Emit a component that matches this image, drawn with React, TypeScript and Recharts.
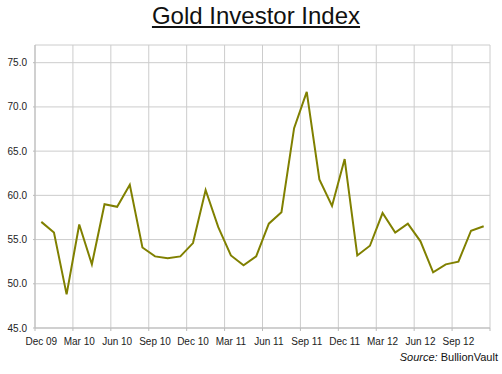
import { LineChart, Line, XAxis, YAxis, CartesianGrid } from 'recharts';

const months = [
    'Dec 09', 'Jan 10', 'Feb 10', 'Mar 10', 'Apr 10', 'May 10', 'Jun 10', 'Jul 10', 'Aug 10', 'Sep 10', 'Oct 10', 'Nov 10',
    'Dec 10', 'Jan 11', 'Feb 11', 'Mar 11', 'Apr 11', 'May 11', 'Jun 11', 'Jul 11', 'Aug 11', 'Sep 11', 'Oct 11', 'Nov 11',
    'Dec 11', 'Jan 12', 'Feb 12', 'Mar 12', 'Apr 12', 'May 12', 'Jun 12', 'Jul 12', 'Aug 12', 'Sep 12', 'Oct 12', 'Nov 12',
];

const indexValues = [
    57.0, 55.8, 48.8, 56.7, 52.2, 59.0, 58.7, 61.2, 54.1, 53.1, 52.9, 53.1,
    54.6, 60.6, 56.4, 53.2, 52.1, 53.1, 56.8, 58.1, 67.6, 71.7, 61.8, 58.8,
    64.1, 53.2, 54.3, 58.0, 55.8, 56.8, 54.8, 51.3, 52.2, 52.5, 56.0, 56.5,
];

const yTicks = [45, 50, 55, 60, 65, 70, 75];
// quarterly labels sit on the category, gridlines on the boundaries between categories
const labelTicks = [0, 3, 6, 9, 12, 15, 18, 21, 24, 27, 30, 33];
const gridTicks = [-0.5, 2.5, 5.5, 8.5, 11.5, 14.5, 17.5, 20.5, 23.5, 26.5, 29.5, 32.5, 35.5];

const data = months.map((m, i) => ({ idx: i, month: m, value: indexValues[i] }));

const FONT = '"Liberation Sans", Arial, sans-serif';

export default function App() {
    return (
        <div style={{ position: 'relative', width: 502, height: 374, background: '#fff', fontFamily: FONT }}>
            <style>{`body { margin: 0; }`}</style>
            <div style={{ position: 'absolute', top: 4, left: 10, width: 492, textAlign: 'center', fontSize: 24, lineHeight: '24px', color: '#111', textDecoration: 'underline' }}>
                Gold Investor Index
            </div>
            <LineChart width={502} height={374} data={data} margin={{ top: 45, right: 12, left: 0, bottom: 23 }}>
                <CartesianGrid xAxisId="grid" stroke="#cccccc" ticks={gridTicks} />
                <XAxis
                    xAxisId="grid"
                    dataKey="idx"
                    type="number"
                    domain={[-0.5, 35.5]}
                    ticks={gridTicks}
                    tickFormatter={() => ''}
                    tickSize={3}
                    height={3}
                    stroke="#bbbbbb"
                />
                <XAxis
                    xAxisId="labels"
                    dataKey="idx"
                    type="number"
                    domain={[-0.5, 35.5]}
                    ticks={labelTicks}
                    tickFormatter={(v: number) => months[v]}
                    axisLine={false}
                    tickLine={false}
                    tickSize={0}
                    tickMargin={7}
                    height={20}
                    interval={0}
                    tick={{ fill: '#222', fontSize: 10, fontFamily: FONT }}
                />
                <YAxis
                    domain={[45, 77]}
                    ticks={yTicks}
                    allowDataOverflow
                    tickFormatter={(v: number) => v.toFixed(1)}
                    width={35}
                    tickSize={2}
                    tickMargin={6}
                    stroke="#bbbbbb"
                    tick={{ fill: '#222', fontSize: 10, fontFamily: FONT }}
                />
                <Line
                    xAxisId="grid"
                    type="linear"
                    dataKey="value"
                    stroke="#808000"
                    strokeWidth={2}
                    dot={false}
                    isAnimationActive={false}
                />
            </LineChart>
            <div style={{ position: 'absolute', top: 352, right: 4, fontSize: 11, lineHeight: '11px', color: '#111', whiteSpace: 'nowrap' }}>
                <i>Source:</i> BullionVault
            </div>
        </div>
    );
}
